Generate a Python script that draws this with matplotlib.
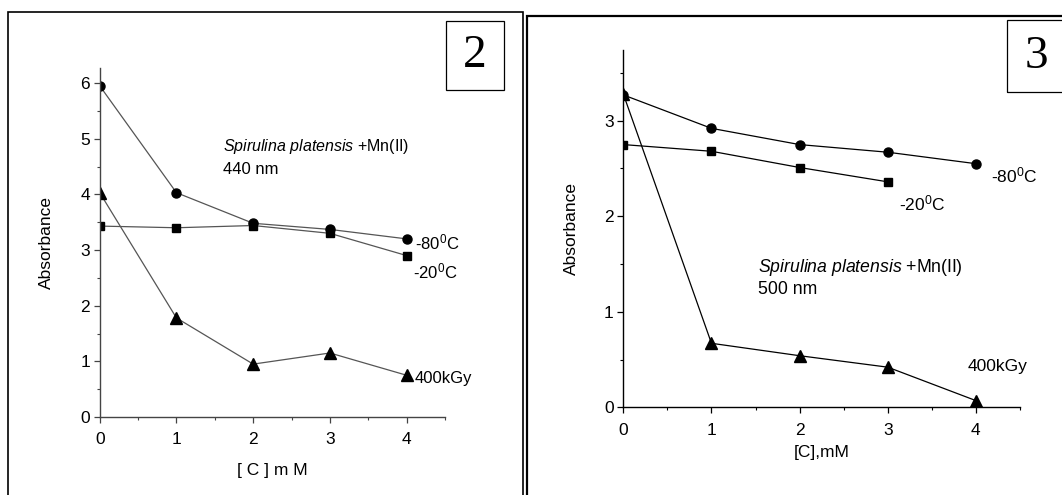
import matplotlib
matplotlib.use("Agg")
import matplotlib.pyplot as plt
from matplotlib.patches import Rectangle
from matplotlib.ticker import MultipleLocator

plt.rcParams['font.family'] = ['Liberation Sans', 'DejaVu Sans']
plt.rcParams['mathtext.fontset'] = 'custom'
plt.rcParams['mathtext.rm'] = 'Liberation Sans'
plt.rcParams['mathtext.it'] = 'Liberation Sans:italic'

# Panel 2 (440 nm)
conc2 = [0, 1, 2, 3, 4]
m80_2 = [5.95, 4.03, 3.48, 3.37, 3.20]
m20_2 = [3.43, 3.40, 3.44, 3.30, 2.90]
kgy_2 = [4.03, 1.78, 0.95, 1.15, 0.75]

# Panel 3 (500 nm)
conc3 = [0, 1, 2, 3, 4]
m80_3 = [3.27, 2.92, 2.75, 2.67, 2.55]
conc3_m20 = [0, 1, 2, 3]
m20_3 = [2.75, 2.68, 2.51, 2.36]
kgy_3 = [3.28, 0.67, 0.54, 0.42, 0.07]

W, H = 1062, 495
fig = plt.figure(figsize=(W / 100, H / 100), dpi=100)

def fx(px):
    return px / W

def fy(py):
    return 1 - py / H

# outer frames
fig.patches.append(Rectangle((fx(8), fy(500)), fx(523) - fx(8), fy(12) - fy(500),
                             transform=fig.transFigure, fill=False, lw=1.2,
                             edgecolor='black'))
fig.patches.append(Rectangle((fx(527), fy(500)), fx(1070) - fx(527), fy(16) - fy(500),
                             transform=fig.transFigure, fill=False, lw=1.6,
                             edgecolor='black'))
# number boxes
fig.patches.append(Rectangle((fx(446), fy(90)), fx(504) - fx(446), fy(21) - fy(90),
                             transform=fig.transFigure, fill=False, lw=0.9,
                             edgecolor='black'))
fig.patches.append(Rectangle((fx(1007), fy(92)), fx(1070) - fx(1007), fy(20) - fy(92),
                             transform=fig.transFigure, fill=False, lw=0.9,
                             edgecolor='black'))
fig.text(fx(475), fy(56), '2', fontsize=34, family='Liberation Serif',
         ha='center', va='center')
fig.text(fx(1036), fy(57), '3', fontsize=34, family='Liberation Serif',
         ha='center', va='center')


def style_axes(ax, color, ymax, ystep, xpad):
    for s in ['top', 'right']:
        ax.spines[s].set_visible(False)
    for s in ['left', 'bottom']:
        ax.spines[s].set_color(color)
        ax.spines[s].set_linewidth(1.0)
    ax.set_xlim(0, 4.5)
    ax.set_ylim(0, ymax)
    ax.xaxis.set_major_locator(MultipleLocator(1))
    ax.xaxis.set_minor_locator(MultipleLocator(0.5))
    ax.yaxis.set_major_locator(MultipleLocator(ystep))
    ax.yaxis.set_minor_locator(MultipleLocator(ystep / 2))
    ax.tick_params(which='major', direction='out', length=4, width=0.9,
                   color=color, labelsize=12.5, pad=3)
    ax.tick_params(axis='x', which='major', pad=xpad)
    ax.tick_params(which='minor', direction='out', length=2.5, width=0.8,
                   color=color)
    ax.set_facecolor('none')


# ---- Left panel ----
ax1 = fig.add_axes([fx(99.7), fy(417), fx(445) - fx(99.7), fy(68) - fy(417)])
style_axes(ax1, '#444444', 6.27, 1, 7)
lc = '#555555'
ax1.plot(conc2, m80_2, '-o', color=lc, mfc='black', mec='black', ms=6.5, lw=0.9)
ax1.plot(conc2, m20_2, '-s', color=lc, mfc='black', mec='black', ms=6, lw=0.9)
ax1.plot(conc2, kgy_2, '-^', color=lc, mfc='black', mec='black', ms=8, lw=0.9)
ax1.set_xlabel('[ C ] m M', fontsize=12.5, labelpad=11)
ax1.set_ylabel('Absorbance', fontsize=12.5, labelpad=19)
fig.text(fx(223), fy(147), r'$\mathit{Spirulina\ platensis}$ +Mn(II)', fontsize=11.5,
         ha='left', va='center')
fig.text(fx(223), fy(170), '440 nm', fontsize=12, ha='left', va='center')
fig.text(fx(415), fy(242), r'-80$^{\mathrm{0}}$C', fontsize=12, ha='left', va='center')
fig.text(fx(413), fy(271), r'-20$^{\mathrm{0}}$C', fontsize=12, ha='left', va='center')
fig.text(fx(415), fy(378), '400kGy', fontsize=12, ha='left', va='center')

# ---- Right panel ----
ax2 = fig.add_axes([fx(623.3), fy(407.3), fx(1020) - fx(623.3), fy(50) - fy(407.3)])
style_axes(ax2, 'black', 3.74, 1, 7)
ax2.plot(conc3, m80_3, '-o', color='black', ms=6.5, lw=0.9)
ax2.plot(conc3_m20, m20_3, '-s', color='black', ms=6, lw=0.9)
ax2.plot(conc3, kgy_3, '-^', color='black', ms=8.5, lw=0.9)
ax2.set_xlabel('[C],mM', fontsize=12.5, labelpad=5)
ax2.set_ylabel('Absorbance', fontsize=12.5, labelpad=18)
fig.text(fx(757.7), fy(267), r'$\mathit{Spirulina\ platensis}$ +Mn(II)', fontsize=12.7,
         ha='left', va='center')
fig.text(fx(757.7), fy(290), '500 nm', fontsize=12.7, ha='left', va='center')
fig.text(fx(991), fy(175), r'-80$^{\mathrm{0}}$C', fontsize=12.5, ha='left', va='center')
fig.text(fx(899), fy(203), r'-20$^{\mathrm{0}}$C', fontsize=12.5, ha='left', va='center')
fig.text(fx(968), fy(367), '400kGy', fontsize=12.5, ha='left', va='center')

fig.savefig('out.png', dpi=100)
